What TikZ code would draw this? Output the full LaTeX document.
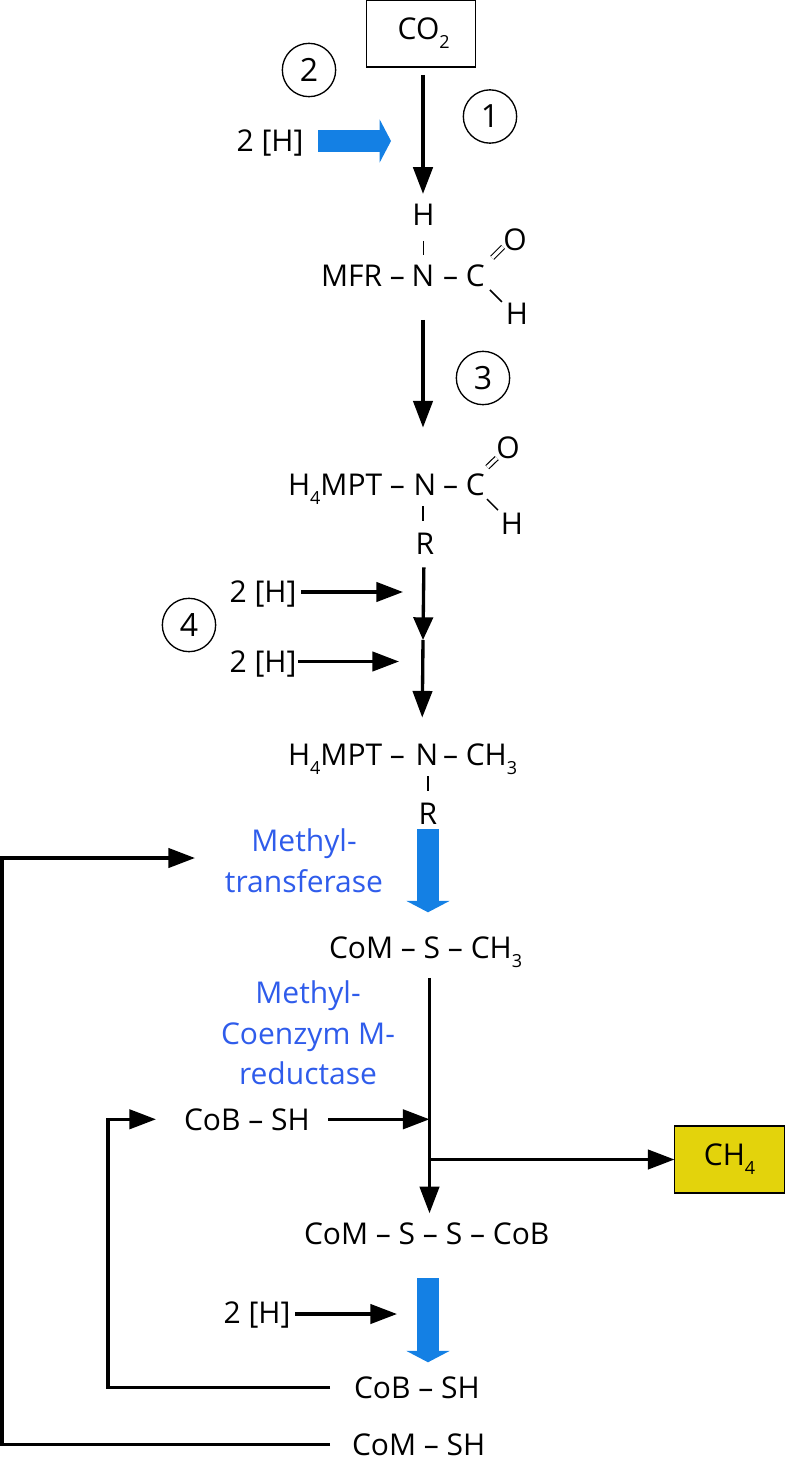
\documentclass[tikz,border=0pt]{standalone}
\usepackage{fontspec}
\setmainfont{Open Sans}
\usetikzlibrary{arrows.meta,calc}
\definecolor{arrowblue}{HTML}{1480E4}
\definecolor{labelblue}{HTML}{2F5CEB}
\definecolor{chfill}{HTML}{E3D30C}
\newcommand{\lowidx}[1]{\raisebox{-0.3em}{\fontsize{13.5}{15}\selectfont #1}}
\tikzset{
  txt/.style={inner sep=0pt,outer sep=0pt,anchor=base,font=\fontsize{22.5}{27}\selectfont,text=black},
  txtw/.style={txt,anchor=base west},
  txte/.style={txt,anchor=base east},
  enz/.style={inner sep=0pt,outer sep=0pt,align=center,font=\fontsize{22.5}{30.4}\selectfont,text=labelblue},
  stepnum/.style={circle,draw=black,line width=1pt,minimum size=40pt,inner sep=0pt,outer sep=0pt,font=\fontsize{24}{27}\selectfont},
  sbox/.style={draw=black,line width=1.2pt,inner sep=0pt,outer sep=0pt,font=\fontsize{22.5}{27}\selectfont},
  flow/.style={draw=black,line width=2.5pt,-{Triangle[length=20pt,width=14.5pt]}},
  bigflow/.style={draw=arrowblue,line width=16pt,-{Triangle[length=8.5pt,width=32pt]}},
  bond/.style={draw=black,line width=1.1pt},
  dbond/.style={draw=black,line width=0.9pt,double,double distance=2.4pt},
}
\begin{document}
\begin{tikzpicture}[x=0.75pt,y=-0.75pt]
\useasboundingbox (0,0) rectangle (785,1469);
% boxes
\node[sbox,minimum width=82pt,minimum height=50pt] (co2) at (421,33.5) {\hspace{4pt}\raisebox{1pt}{CO\lowidx{2}}};
\node[sbox,fill=chfill,minimum width=82.5pt,minimum height=50pt] (ch4) at (729.5,1159.5) {CH\lowidx{4}};
% step numbers
\node[stepnum] (s2) at (309,70) {2};
\node[stepnum] (s1) at (490,116.5) {1};
\node[stepnum] (s3) at (483,378) {3};
\node[stepnum] (s4) at (189,625) {4};
% formyl-MFR
\node[txt] (h2a) at (270,152) {2 [H]};
\node[txt] (Ht) at (423.5,226) {H};
\node[txt] (Na) at (423,287) {N};
\node[txte] (mfr) at (405,287) {MFR –};
\node[txtw] (Ca) at (443,287) {– C};
\coordinate (Cad) at (478,272);
\coordinate (Oad) at (515,235);
\coordinate (Cah) at (478,278);
\coordinate (Hah) at (517,317);
\node[txt] (Oa) at (515,251) {O};
\node[txt] (Ha) at (517,325) {H};
% formyl-H4MPT
\node[txte] (mpta) at (405,495) {H\lowidx{4}MPT –};
\node[txt] (Nb) at (425,495) {N};
\node[txtw] (Cb) at (443,495) {– C};
\coordinate (Cbd) at (476,478);
\coordinate (Cbh) at (476,488);
\node[txt] (Ob) at (508,458) {O};
\node[txt] (Hb) at (512,534) {H};
\node[txt] (Rb) at (425,554) {R};
\node[txt] (h2b) at (263,602) {2 [H]};
\node[txt] (h2c) at (263,672) {2 [H]};
% methyl-H4MPT
\node[txte] (mptb) at (405,765) {H\lowidx{4}MPT –};
\node[txt] (Nc) at (427,765) {N};
\node[txtw] (Cc) at (443,765) {– CH\lowidx{3}};
\node[txt] (Rc) at (428,824) {R};
% enzymes
\node[enz] (mt) at (304,861) {Methyl-\\transferase};
\node[enz] (mr) at (308,1033) {Methyl-\\Coenzym M-\\reductase};
% lower formulas
\node[txtw] (coms) at (329,958) {CoM – S – CH\lowidx{3}};
\node[txtw] (coba) at (184,1130) {CoB – SH};
\node[txtw] (comss) at (304,1244) {CoM – S – S – CoB};
\node[txt] (h2d) at (257,1323) {2 [H]};
\node[txtw] (cobb) at (354,1398) {CoB – SH};
\node[txtw] (comsh) at (352,1455) {CoM – SH};
% free ends and axes
\coordinate (e2a) at (391,141);
\coordinate (e2b) at (403,592);
\coordinate (e2c) at (399,661.5);
\coordinate (m4) at (423,640);
\coordinate (ax1) at (423,0);
\coordinate (ax2) at (429.5,0);
\coordinate (ax3) at (428,0);
\coordinate (jcob) at (429.5,1120);
\coordinate (jch4) at (429.5,1159.5);
\coordinate (e2d) at (397,1314);
\coordinate (ret1) at (108,1120);
\coordinate (ret2) at (2,858);
\coordinate (retend) at (195,858);
% bonds
\draw[bond,shorten <=11.25pt,shorten >=8.25pt] (Ht.south) -- (Ht.south |- Na.north);
\draw[dbond,shorten <=15pt,shorten >=12.7pt] (Cad) -- (Oad);
\draw[bond,shorten <=12.7pt,shorten >=16pt] (Cah) -- (Hah);
\draw[bond,shorten <=8.25pt,shorten >=9pt] ([xshift=-1.5pt]Nb.south) -- ([xshift=-1.5pt]Rb.north);
\draw[dbond,shorten <=11.7pt,shorten >=11.7pt] (Cbd) -- (Ob.center);
\draw[bond,shorten <=11.7pt,shorten >=15pt] (Cbh) -- ([yshift=-0.75pt]Hb.center);
\draw[bond,shorten <=8.25pt,shorten >=9pt] ([xshift=0.75pt]Nc.south) -- ([xshift=0pt]Rc.north);
% main flow
\draw[flow,shorten <=6pt,shorten >=8pt] (ax1 |- co2.south) -- (ax1 |- Ht.north);
\draw[flow,shorten <=24.75pt,shorten >=34.5pt] (ax1 |- Na.south) -- (ax1 |- Nb.north);
\draw[flow,shorten <=10pt,-{Triangle[length=17pt,width=14.5pt]}] ([xshift=-0.75pt]Rb.south) -- (m4);
\draw[flow,shorten >=19.5pt] (m4) -- ([xshift=-3.75pt]Nc.north);
\draw[flow,shorten <=8pt,shorten >=6.75pt] (ax2 |- coms.south) -- (ax2 |- comss.north);
\draw[flow] (jch4) -- (jch4 -| ch4.west);
\draw[flow,shorten <=14pt] (coba.east) -- (coba.east -| jcob);
\draw[flow,shorten <=3.75pt] (h2b.east |- e2b) -- (e2b);
\draw[flow,shorten <=1.5pt] (h2c.east |- e2c) -- (e2c);
\draw[flow,shorten <=3.75pt] (h2d.east |- e2d) -- (e2d);
% blue arrows
\draw[bigflow,shorten <=11pt] (h2a.east |- e2a) -- (e2a);
\draw[bigflow,shorten <=3.75pt,shorten >=18pt] (Rc.south) -- (coms.north -| Rc);
\draw[bigflow,shorten <=25.5pt,shorten >=10.5pt] (ax3 |- comss.south) -- (ax3 |- cobb.north);
% returns
\draw[flow,shorten <=16.5pt] (comsh.west) -| (ret2) -- (retend);
\draw[flow,shorten <=18pt,shorten >=21pt] (cobb.west) -| (ret1) |- (coba.west);
\end{tikzpicture}
\end{document}
